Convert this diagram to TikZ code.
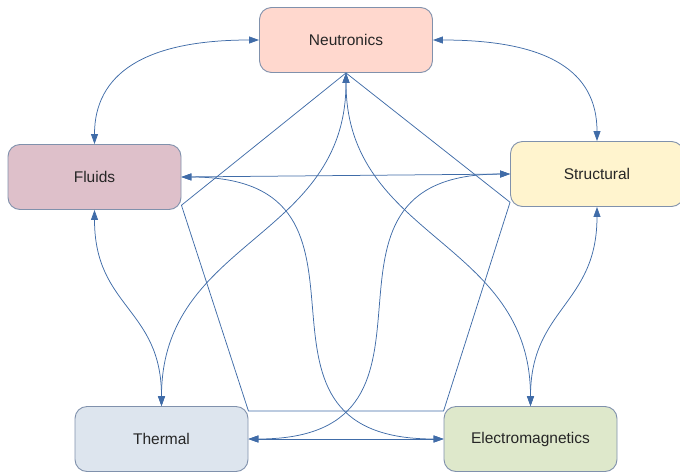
\documentclass[tikz,border=0pt]{standalone}
\usepackage{fontspec}
\setmainfont{Liberation Sans}
\usetikzlibrary{arrows.meta}

\definecolor{linkblue}{RGB}{64,108,168}
\definecolor{boxline}{RGB}{128,145,172}
\definecolor{neutfill}{RGB}{255,216,206}
\definecolor{fluidfill}{RGB}{222,192,202}
\definecolor{structfill}{RGB}{255,244,206}
\definecolor{thermfill}{RGB}{221,229,238}
\definecolor{emfill}{RGB}{222,232,203}

\begin{document}
\begin{tikzpicture}[x=1pt,y=-1pt]
        \tikzstyle{box}=[draw=boxline, line width=0.9pt, rounded corners=12pt, minimum width=173pt, minimum height=65pt, text=black!85, font=\fontsize{15.5}{18}\selectfont]
        \tikzstyle{link}=[draw=linkblue, line width=0.75pt]
        \tikzstyle{both}=[link, {Triangle[length=10pt,width=7pt]}-{Triangle[length=10pt,width=7pt]}]
        \useasboundingbox (0,0) rectangle (680,472);
        \node[box, fill=neutfill] (neut) at (346,40) {Neutronics};
        \node[box, fill=fluidfill] (fluids) at (94.5,177) {Fluids};
        \node[box, fill=structfill] (struct) at (597,174) {Structural};
        \node[box, fill=thermfill] (thermal) at (161.5,439) {Thermal};
        \node[box, fill=emfill] (em) at (530.5,439) {Electromagnetics};
        % outer ring
        \draw[both] (neut.west) .. controls +(-115,0) and +(0,-70) .. (fluids.north);
        \draw[both] (neut.east) .. controls +(115,0) and +(0,-70) .. (struct.north);
        \draw[both] (fluids.south) .. controls +(0,98) and +(0,-98) .. (thermal.north);
        \draw[both] (struct.south) .. controls +(0,98) and +(0,-98) .. (em.north);
        \draw[both] (fluids.east) -- (struct.west);
        \draw[both] (thermal.east) -- (em.west);
        % inner star
        \draw[both] (neut.south) .. controls +(0,167) and +(0,-167) .. (thermal.north);
        \draw[both] (neut.south) .. controls +(0,167) and +(0,-167) .. (em.north);
        \draw[both] (fluids.east) .. controls +(230,0) and +(-230,0) .. (em.west);
        \draw[both] (struct.west) .. controls +(-230,0) and +(230,0) .. (thermal.east);
        % pentagon
        \draw[link] (neut.south) -- (fluids.-18) -- ([yshift=-5pt]thermal.north east) -- ([yshift=-5pt]em.north west) -- (struct.198) -- cycle;
\end{tikzpicture}
\end{document}
